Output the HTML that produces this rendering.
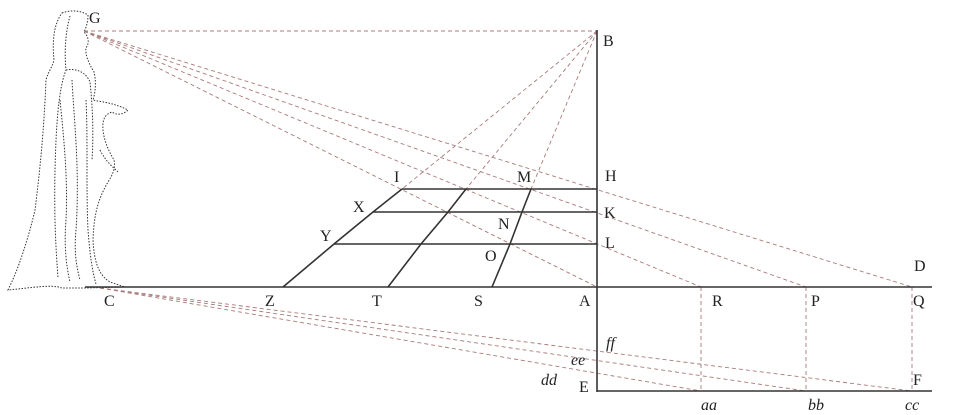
<!DOCTYPE html>
<html><head><style>
html,body{margin:0;padding:0;background:#fff;}
svg{display:block;}
text{font-family:"Liberation Serif",serif;font-size:16px;fill:#222;}
.i{font-style:italic;}
</style></head><body>
<svg width="960" height="415" viewBox="0 0 960 415" xmlns="http://www.w3.org/2000/svg">
<g fill="none" stroke="#333" stroke-width="1" stroke-dasharray="1.5,1.5">
<path d="M62,13 C70,10 80,10 88,15 C88,22 86,28 84,32 C88,36 90,42 86,48 C85,54 88,62 94,72 C96,80 96,90 93,100 C100,102 112,102 128,110 C124,114 118,116 112,112 C106,114 102,118 103,130 C104,140 108,150 114,160 C116,168 112,176 108,182 C100,196 94,210 93,240 C94,260 98,275 110,282 L125,287 L85,288 L62,288 C52,284 30,288 8,290 C18,270 28,240 35,210 C40,170 44,130 46,80 C48,72 52,68 54,60 C52,40 54,24 62,13 Z"/>
<path d="M70,16 C66,30 64,50 66,70 C58,90 56,130 55,170 C54,220 56,250 58,278"/>
<path d="M66,70 C76,68 86,72 90,82 C92,100 94,130 92,160"/>
<path d="M72,80 C74,120 80,170 76,230 C74,250 76,265 80,280"/>
<path d="M60,100 C64,140 68,180 66,220 C64,245 66,265 70,282"/>
<path d="M86,100 C88,140 86,190 88,230 C90,255 92,270 96,284"/>
<path d="M100,150 C106,162 114,168 118,172"/>
</g>
<g fill="none" stroke="#a87b7b" stroke-width="0.9" stroke-dasharray="4,3">
<line x1="84" y1="31" x2="597" y2="31"/>
<line x1="84" y1="31" x2="597" y2="287"/>
<line x1="84" y1="31" x2="701" y2="287"/>
<line x1="84" y1="31" x2="806" y2="287"/>
<line x1="84" y1="31" x2="912" y2="287"/>
<line x1="597" y1="31" x2="402" y2="189"/>
<line x1="597" y1="31" x2="466" y2="189"/>
<line x1="597" y1="31" x2="531" y2="189"/>
<line x1="701" y1="287" x2="701" y2="391"/>
<line x1="806" y1="287" x2="806" y2="391"/>
<line x1="912" y1="287" x2="912" y2="391"/>
<line x1="100" y1="288" x2="701" y2="391"/>
<line x1="100" y1="288" x2="806" y2="391"/>
<line x1="100" y1="288" x2="912" y2="391"/>
</g>
<g fill="none" stroke="#333" stroke-width="1.6">
<line x1="85" y1="287" x2="932" y2="287"/>
<line x1="597" y1="30" x2="597" y2="392"/>
<line x1="597" y1="391" x2="932" y2="391"/>
<line x1="402" y1="189" x2="597" y2="189"/>
<line x1="373" y1="212" x2="597" y2="212"/>
<line x1="334" y1="244" x2="597" y2="244"/>
<polyline points="283,287 334,244 373,212 402,189"/>
<polyline points="388,287 421,244 448,212 466,189"/>
<polyline points="492,287 510,244 522,212 531,189"/>
</g>
<text x="89" y="23">G</text>
<text x="603" y="46">B</text>
<text x="605" y="181">H</text>
<text x="604" y="218">K</text>
<text x="605" y="248">L</text>
<text x="914" y="271">D</text>
<text x="913" y="306">Q</text>
<text x="811" y="306">P</text>
<text x="712" y="306">R</text>
<text x="579" y="306">A</text>
<text x="474" y="306">S</text>
<text x="372" y="306">T</text>
<text x="265" y="306">Z</text>
<text x="104" y="306">C</text>
<text x="394" y="182">I</text>
<text x="517" y="182">M</text>
<text x="353" y="212">X</text>
<text x="498" y="229">N</text>
<text x="320" y="241">Y</text>
<text x="485" y="261">O</text>
<text x="606" y="348" class="i">ff</text>
<text x="571" y="365" class="i">ee</text>
<text x="541" y="385" class="i">dd</text>
<text x="579" y="392">E</text>
<text x="913" y="385">F</text>
<text x="701" y="410" class="i">aa</text>
<text x="808" y="410" class="i">bb</text>
<text x="905" y="410" class="i">cc</text>
</svg>
</body></html>
